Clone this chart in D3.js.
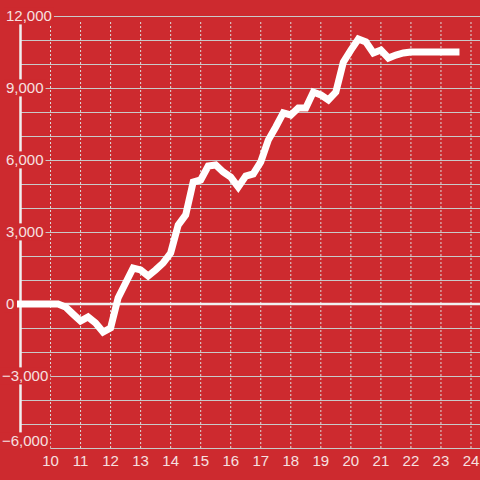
<!DOCTYPE html>
<html>
<head>
<meta charset="utf-8">
<script src="https://cdn.jsdelivr.net/npm/d3@7"></script>
<style>
  html, body { margin: 0; padding: 0; background: #cd2a2f; }
  svg { display: block; }
  text { font-family: "Liberation Sans", Arial, sans-serif; font-size: 15px; fill: #f6e0e0; }
</style>
</head>
<body>
<div id="chart"></div>
<script>
// hours of the day (x) and running total (y)
var hours = [9, 10, 10.25, 10.5, 10.75, 11, 11.25, 11.5, 11.75, 12, 12.25, 12.5, 12.75,
  13, 13.25, 13.5, 13.75, 14, 14.25, 14.5, 14.75, 15, 15.25, 15.5, 15.75,
  16, 16.25, 16.5, 16.75, 17, 17.25, 17.5, 17.75, 18, 18.25, 18.5, 18.75,
  19, 19.25, 19.5, 19.75, 20, 20.25, 20.5, 20.75, 21, 21.25, 21.5, 21.75,
  22, 22.25, 22.5, 22.75, 23, 23.25, 23.5];
var totals = [0, 0, 0, -125, -420, -710, -540, -790, -1170, -1000, 250, 875, 1500,
  1420, 1170, 1420, 1710, 2125, 3290, 3710, 5080, 5170, 5750, 5790, 5500,
  5290, 4875, 5330, 5420, 5920, 6830, 7375, 7960, 7875, 8170, 8170, 8830,
  8710, 8500, 8830, 10080, 10580, 11040, 10920, 10460, 10580, 10250, 10375, 10460,
  10500, 10500, 10500, 10500, 10500, 10500, 10500];

var xTicks = [10, 11, 12, 13, 14, 15, 16, 17, 18, 19, 20, 21, 22, 23, 24];
var yGrid = [-6000, -5000, -4000, -3000, -2000, -1000, 0, 1000, 2000, 3000, 4000, 5000,
  6000, 7000, 8000, 9000, 10000, 11000, 12000];
var yLabels = [-6000, -3000, 0, 3000, 6000, 9000, 12000];

var width = 480, height = 480, bg = "#cd2a2f";

var x = d3.scaleLinear().domain([9, 24.3]).range([20.5, 480]);
var y = d3.scaleLinear().domain([-6000, 12000]).range([448, 16]);

var svg = d3.select("#chart").append("svg")
  .attr("width", width)
  .attr("height", height);

// horizontal grid
svg.append("g").selectAll("line")
  .data(yGrid)
  .enter().append("line")
  .attr("x1", x(9))
  .attr("x2", width)
  .attr("y1", function(d) { return y(d) + 0.5; })
  .attr("y2", function(d) { return y(d) + 0.5; })
  .attr("stroke", "#c9c9c9")
  .attr("stroke-width", 1);

// vertical dashed grid
svg.append("g").selectAll("line")
  .data(xTicks)
  .enter().append("line")
  .attr("x1", function(d) { return x(d); })
  .attr("x2", function(d) { return x(d); })
  .attr("y1", y(-6000))
  .attr("y2", y(12000) + 6)
  .attr("stroke", "#dcdcdc")
  .attr("stroke-width", 1)
  .attr("stroke-dasharray", "2,2");

// zero line
svg.append("line")
  .attr("x1", x(9))
  .attr("x2", width)
  .attr("y1", y(0))
  .attr("y2", y(0))
  .attr("stroke", "#f0f0f0")
  .attr("stroke-width", 2.5);

// y axis
svg.append("line")
  .attr("x1", x(9))
  .attr("x2", x(9))
  .attr("y1", y(12000))
  .attr("y2", y(-6000))
  .attr("stroke", "#f0f0f0")
  .attr("stroke-width", 2.5);

// y labels with background, kept inside the plot at the bottom
var fmt = d3.format(",");
var ylab = svg.append("g").selectAll("g")
  .data(yLabels)
  .enter().append("g");

ylab.append("text")
  .attr("x", function(d) { return d < 0 ? 2 : 6; })
  .attr("y", function(d) { return Math.min(y(d), y(-6000) - 7); })
  .attr("dy", "0.36em")
  .text(function(d) { return fmt(d); });

ylab.each(function() {
  var g = d3.select(this);
  var b = g.select("text").node().getBBox();
  g.insert("rect", "text")
    .attr("x", b.x - 2)
    .attr("y", b.y)
    .attr("width", b.width + 4)
    .attr("height", b.height)
    .attr("fill", bg);
});

// x labels
svg.append("g").selectAll("text")
  .data(xTicks)
  .enter().append("text")
  .attr("x", function(d) { return x(d); })
  .attr("y", 466)
  .attr("text-anchor", "middle")
  .text(function(d) { return d; });

// the line
var line = d3.line()
  .x(function(d) { return x(d[0]); })
  .y(function(d) { return y(d[1]); });

svg.append("path")
  .datum(d3.zip(hours, totals))
  .attr("fill", "none")
  .attr("stroke", "#ffffff")
  .attr("stroke-width", 7)
  .attr("stroke-linecap", "square")
  .attr("d", line);
</script>
</body>
</html>
